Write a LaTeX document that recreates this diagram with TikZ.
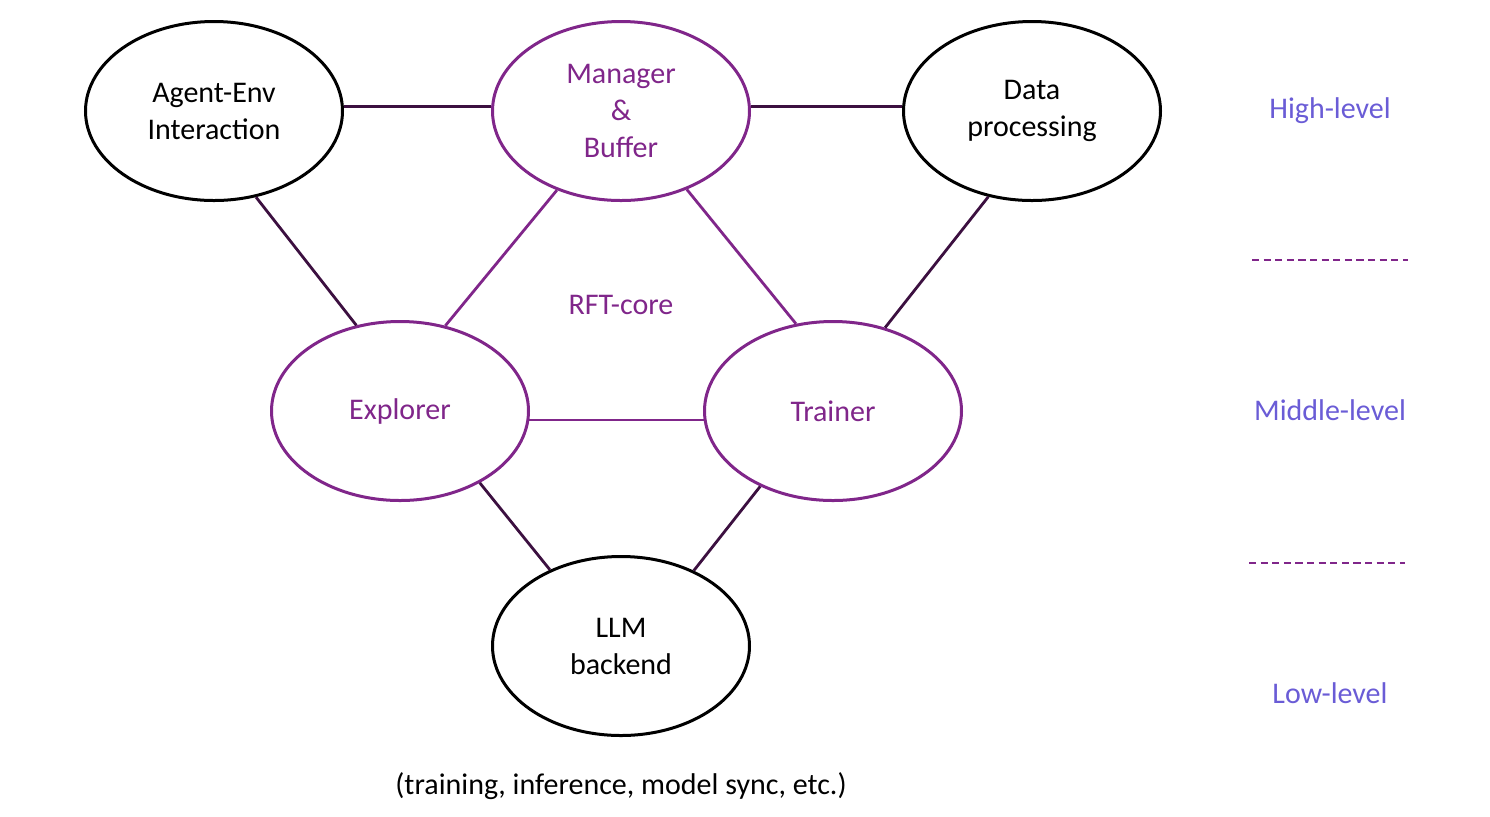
\documentclass[tikz,border=0pt]{standalone}
\usepackage{fontspec}
\setmainfont{Carlito}
\usetikzlibrary{positioning,shapes.geometric}
\definecolor{corepurple}{RGB}{128,38,138}
\definecolor{linkdark}{RGB}{60,16,64}
\definecolor{levelblue}{RGB}{106,92,214}

\begin{document}
\begin{tikzpicture}[x=0.5pt,y=-0.5pt]
        \tikzset{
          Module/.style={ellipse,draw,line width=1.5pt,minimum width=128.5pt,
            minimum height=89.5pt,inner sep=0pt,align=center,
            font=\fontsize{15}{18.5}\selectfont},
          CoreModule/.style={Module,draw=corepurple,text=corepurple},
          EdgeStyle/.style={line width=1.4pt,draw=linkdark},
          CoreEdge/.style={line width=1.4pt,draw=corepurple},
          Level/.style={text=levelblue,font=\fontsize{15}{18.5}\selectfont},
          Divider/.style={line width=1pt,draw=corepurple,dash pattern=on 3.6pt off 2.2pt}
        }
        \useasboundingbox (0,0) rectangle (1490,816);

        % high level
        \node[Module](agent) at (214,111){Agent-Env\\Interaction};
        \node[CoreModule](manager) at (621,111){Manager\\\&\\Buffer};
        \node[Module](data) at (1032,111){Data\\processing};

        % middle level
        \node[CoreModule](explorer) at (400,411){Explorer};
        \node[CoreModule](trainer) at (833,411){Trainer};
        \node[text=corepurple,font=\fontsize{15}{18.5}\selectfont](core) at (621,305){RFT-core};

        % low level
        \node[Module](llm) at (621,646){LLM\\backend};
        \node[font=\fontsize{15}{18.5}\selectfont,below=14pt of llm.south](usage){(training, inference, model sync, etc.)};

        \draw[EdgeStyle] (agent.2) -- (manager.178);
        \draw[EdgeStyle] (manager.2) -- (data.178);
        \draw[EdgeStyle] (agent.-64) -- (explorer.117);
        \draw[EdgeStyle] (data.243) -- (trainer.58);
        \draw[EdgeStyle] (explorer.-42) -- (llm.133);
        \draw[EdgeStyle] (trainer.226) -- (llm.46);

        \draw[CoreEdge] (manager.231) -- (explorer.62);
        \draw[CoreEdge] (manager.-50) -- (trainer.113);
        \draw[CoreEdge] (explorer.-4) -- (trainer.184);

        % levels
        \node[Level](high) at (1330,111){High-level};
        \node[Level](middle) at (1330,410){Middle-level};
        \node[Level](low) at (1330,693){Low-level};

        \coordinate (sepa) at (1252,260);
        \coordinate (sepb) at (1408,260);
        \coordinate (sepc) at (1249,563);
        \coordinate (sepd) at (1405,563);
        \draw[Divider] (sepa) -- (sepb);
        \draw[Divider] (sepc) -- (sepd);
      \end{tikzpicture}
\end{document}
